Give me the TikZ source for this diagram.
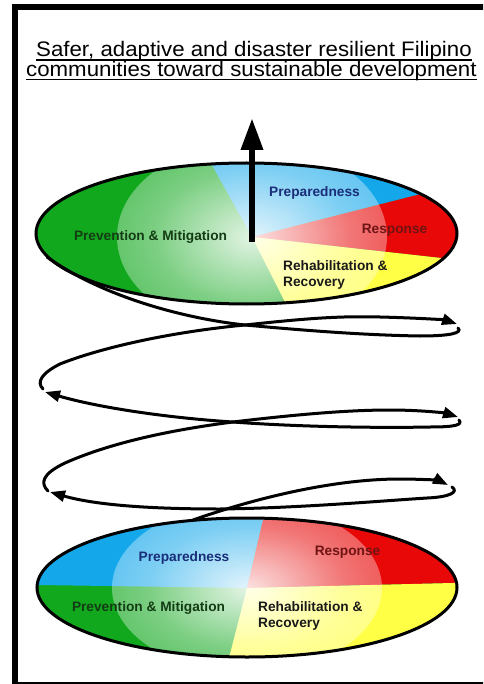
\documentclass[tikz,border=0pt]{standalone}
\usepackage{fontspec}
\setmainfont{Liberation Sans}
\usetikzlibrary{arrows.meta,fadings}
\pgfdeclareradialshading{glowshade}{\pgfpointorigin}{color(0bp)=(black!12); color(18bp)=(black!55); color(50bp)=(black!100)}
\pgfdeclarefading{glow}{\pgfuseshading{glowshade}}
\definecolor{pgreen}{RGB}{18,168,30}
\definecolor{pblue}{RGB}{20,168,235}
\definecolor{pred}{RGB}{232,8,8}
\definecolor{pyellow}{RGB}{255,255,70}
\definecolor{tblue}{RGB}{25,45,120}
\definecolor{tred}{RGB}{110,20,20}
\definecolor{tgreen}{RGB}{20,60,20}
\definecolor{tdark}{RGB}{25,25,25}
\tikzset{
  lbl/.style={font=\fontsize{13.7}{16.5}\selectfont\bfseries, inner sep=0pt},
  outline/.style={draw=black, line width=3pt},
  spiral/.style={line width=3pt, line cap=round, -{Triangle[length=15pt,width=11pt]}},
  spiralend/.style={line width=3pt, line cap=round},
  title/.style={font=\fontsize{21}{25}\selectfont, inner sep=0pt, anchor=base west},
}
\begin{document}
\begin{tikzpicture}[x=1pt,y=-1pt]
\useasboundingbox (0,0) rectangle (483,684);
\clip (0,0) rectangle (483,684);
\fill[white] (0,0) rectangle (483,684);

% ---------- title ----------
\node[title] (t1) at (36,57) {\scalebox{1.06}[1]{Safer, adaptive and disaster resilient Filipino}};
\node[title] (t2) at (26,76.5) {\scalebox{1.06}[1]{communities toward sustainable development}};
\draw[line width=1.4pt] ([yshift=-3pt]t1.base west) -- ([yshift=-3pt]t1.base east);
\draw[line width=1.4pt] ([yshift=-3pt]t2.base west) -- ([yshift=-3pt]t2.base east);

% ---------- top disc ----------
\coordinate (TC) at (252,237);
\begin{scope}
  \clip (246.5,233.5) ellipse [x radius=210.5, y radius=70.5];
  \fill[pgreen] (0,100) rectangle (483,320);
  \fill[pblue] (TC) -- (132,21) -- (747,111) -- cycle;
  \fill[pred] (TC) -- (747,111) -- (819,300) -- cycle;
  \fill[pyellow] (TC) -- (819,300) -- (351,432) -- cycle;
  \fill[white, path fading=glow] (TC) ellipse [x radius=135, y radius=95];
\end{scope}
\draw[outline] (246.5,233.5) ellipse [x radius=210.5, y radius=70.5];

% ---------- bottom disc ----------
\coordinate (BC) at (247,588);
\begin{scope}
  \clip (247,587.5) ellipse [x radius=210, y radius=69.5];
  \fill[pgreen] (0,500) rectangle (483,680);
  \fill[pblue] (BC) -- (295,384) -- (-100,384) -- (-100,583) -- cycle;
  \fill[pred] (BC) -- (295,384) -- (700,384) -- (700,577) -- cycle;
  \fill[pyellow] (BC) -- (700,577) -- (700,800) -- (196,786) -- cycle;
  \fill[white, path fading=glow] (BC) ellipse [x radius=135, y radius=85];
\end{scope}
\draw[outline] (247,587.5) ellipse [x radius=210, y radius=69.5];

% ---------- spiral ----------
\coordinate (s1a) at (193,520);  \coordinate (s1b) at (448,485);
\coordinate (s2a) at (452,487);  \coordinate (s2b) at (50,492);
\coordinate (s3a) at (48,491);   \coordinate (s3b) at (458,417);
\coordinate (s4a) at (459,420);  \coordinate (s4b) at (45,392);
\coordinate (s5a) at (43,389);   \coordinate (s5b) at (457,324);
\coordinate (s6a) at (458,328);  \coordinate (s6b) at (47,257);
\draw[spiral] (s1a) .. controls (250,500) and (330,479) .. (400,479)
              .. controls (425,479) and (440,481) .. (s1b);
\draw[spiral] (s2a) .. controls (459,492) and (450,497) .. (427,498)
              .. controls (380,501) and (300,508) .. (220,509)
              .. controls (150,509) and (95,505) .. (s2b);
\draw[spiral] (s3a) .. controls (40,483) and (42,474) .. (65,463)
              .. controls (110,443) and (170,430) .. (233,422)
              .. controls (300,414) and (350,410) .. (390,410)
              .. controls (420,410) and (445,413) .. (s3b);
\draw[spiral] (s4a) .. controls (463,425) and (455,427) .. (430,427)
              .. controls (380,428) and (300,427) .. (233,422)
              .. controls (170,418) and (100,408) .. (s4b);
\draw[spiral] (s5a) .. controls (36,382) and (42,373) .. (60,364)
              .. controls (100,348) and (170,332) .. (245,325)
              .. controls (310,318) and (340,316) .. (380,317)
              .. controls (420,318) and (445,320) .. (s5b);
\draw[spiralend] (s6a) .. controls (463,333) and (450,336) .. (420,336)
              .. controls (360,335) and (300,330) .. (245,325)
              .. controls (180,318) and (100,295) .. (s6b);

% ---------- upward arrow ----------
\coordinate (up0) at (252,242);
\coordinate (up1) at (252,118);
\draw[line width=6.5pt, -{Triangle[length=32pt,width=21pt]}] (up0) -- (up1);

% ---------- labels ----------
\node[lbl, text=tblue] (tp) at (314.5,193) {Preparedness};
\node[lbl, text=tred] (tr) at (394.5,230.5) {Response};
\node[lbl, text=tgreen] (tm) at (150.5,237) {Prevention \& Mitigation};
\node[lbl, text=tdark, align=left, anchor=west] (tre) at (283,275) {Rehabilitation \&\\Recovery};

\node[lbl, text=tblue] (bp) at (184,558) {Preparedness};
\node[lbl, text=tred] (br) at (347.5,552) {Response};
\node[lbl, text=tgreen] (bm) at (148.5,608) {Prevention \& Mitigation};
\node[lbl, text=tdark, align=left, anchor=west] (bre) at (258,616) {Rehabilitation \&\\Recovery};

% ---------- frame ----------
\draw[line width=6pt] (15,7) rectangle (520,685);
\end{tikzpicture}
\end{document}
